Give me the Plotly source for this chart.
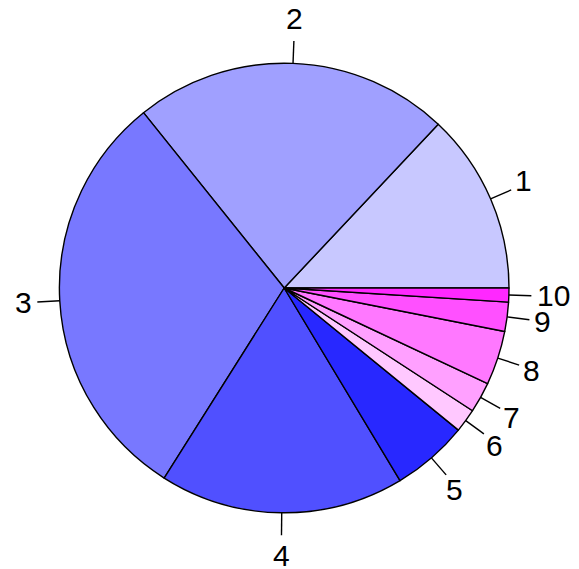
import math
import plotly.graph_objects as go

labels = ["1", "2", "3", "4", "5", "6", "7", "8", "9", "10"]
values = [13.0, 22.8, 30.3, 17.6, 5.5, 1.7, 2.2, 3.9, 2.1, 1.0]
colors = ["#C8C8FF", "#A0A0FF", "#7878FF", "#5050FF", "#2828FF",
          "#FFC8FF", "#FFA0FF", "#FF78FF", "#FF50FF", "#FF28FF"]

W, H = 579, 569
OFF = 8  # page body margin
CX, CY, R = 284.2 - OFF, 288.0 - OFF, 224.8
FS = 30

total = sum(values)
# plotly starts a counterclockwise pie with its first slice ending at `rotation`
rotation = 90 - values[0] / total * 360

fig = go.Figure(go.Pie(
    labels=labels, values=values, sort=False,
    direction="counterclockwise", rotation=rotation,
    marker=dict(colors=colors, line=dict(color="black", width=1.4)),
    textinfo="none", hoverinfo="none", showlegend=False,
    domain=dict(x=[(CX - R) / W, (CX + R) / W],
                y=[1 - (CY + R) / H, 1 - (CY - R) / H]),
))

def to_paper(px, py):
    return px / W, 1 - py / H

cum = 0.0
shapes, annotations = [], []
for lab, v in zip(labels, values):
    mid = (cum + v / 2) / total * 2 * math.pi
    cum += v
    px, py = math.cos(mid), math.sin(mid)
    x0, y0 = to_paper(CX + R * px, CY - R * py)
    x1, y1 = to_paper(CX + 1.1 * R * px, CY - 1.1 * R * py)
    shapes.append(dict(type="line", xref="paper", yref="paper",
                       x0=x0, y0=y0, x1=x1, y1=y1,
                       line=dict(color="black", width=1.4)))
    w = 0.556 * FS * len(lab)
    tx = CX + 1.1 * R * px + px * (5 + w / 2)
    ty = CY - 1.1 * R * py - py * 21 - 1
    ax, ay = to_paper(tx, ty)
    annotations.append(dict(text=lab, x=ax, y=ay, xref="paper", yref="paper",
                            xanchor="center", yanchor="middle", showarrow=False,
                            font=dict(family="Liberation Sans, Arial", size=FS,
                                      color="black")))

fig.update_layout(width=W, height=H, margin=dict(l=0, r=0, t=0, b=0),
                  paper_bgcolor="white", plot_bgcolor="white",
                  shapes=shapes, annotations=annotations)
fig.write_html("out.html")
